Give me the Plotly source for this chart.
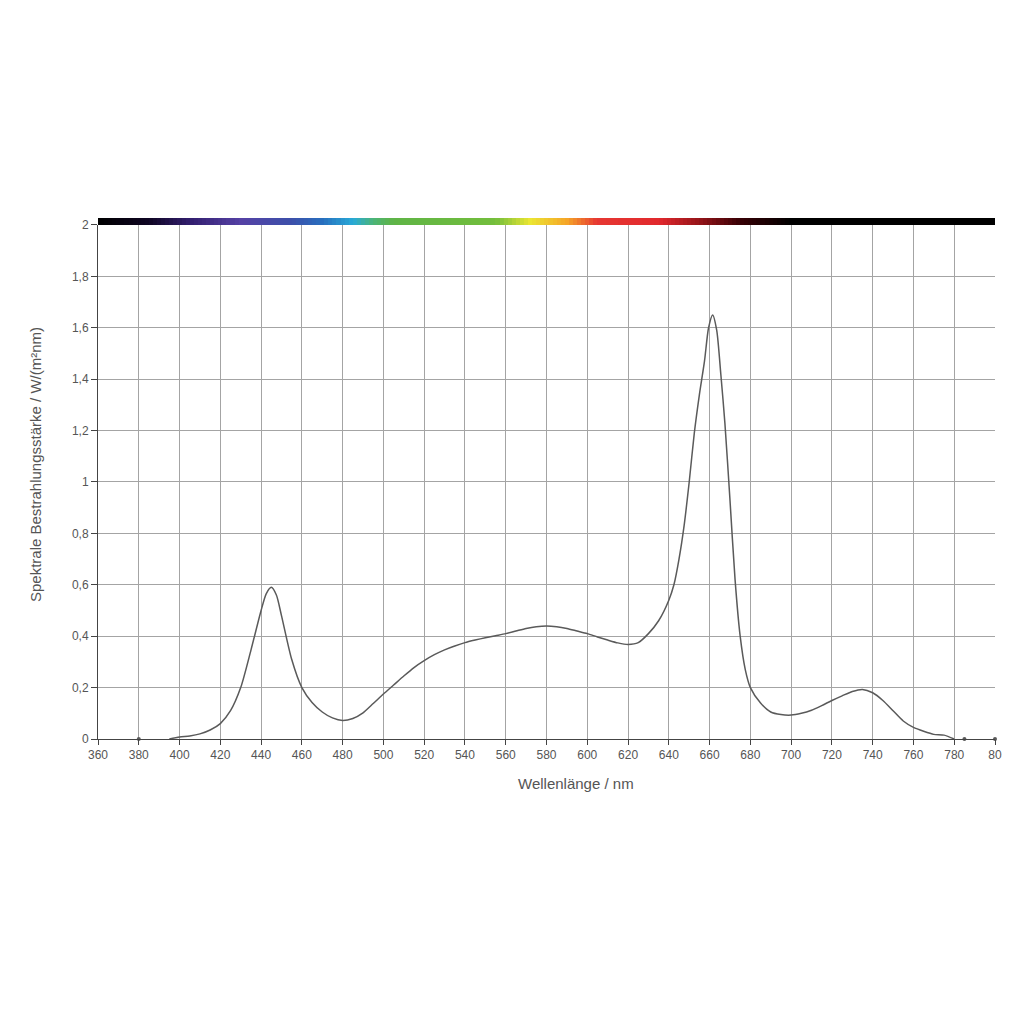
import plotly.graph_objects as go

# spectrum (nm, W/(m²nm))
wavelength = [395, 400, 405, 410, 415, 420, 425, 430, 435, 440, 442.5, 445, 447.5, 450,
              455, 460, 465, 470, 475, 480, 485, 490, 495, 500, 505, 510, 515, 520, 525,
              530, 535, 540, 545, 550, 555, 560, 565, 570, 575, 580, 585, 590, 595, 600,
              605, 610, 615, 620, 625, 630, 635, 640, 642.5, 645, 647.5, 650, 652.5, 655,
              657.5, 659.5, 661.5, 663.5, 665.5, 667.5, 670, 672.5, 675, 677.5, 680, 685,
              690, 695, 700, 705, 710, 715, 720, 725, 730, 735, 740, 745, 750, 755, 760,
              765, 770, 775, 780]
irradiance = [0.0, 0.008, 0.012, 0.02, 0.035, 0.06, 0.11, 0.2, 0.345, 0.5, 0.565, 0.59,
              0.56, 0.48, 0.31, 0.2, 0.142, 0.105, 0.082, 0.072, 0.08, 0.102, 0.138,
              0.175, 0.21, 0.245, 0.278, 0.305, 0.328, 0.347, 0.362, 0.375, 0.385,
              0.394, 0.402, 0.41, 0.42, 0.43, 0.437, 0.44, 0.437, 0.43, 0.42, 0.41,
              0.397, 0.385, 0.374, 0.368, 0.375, 0.41, 0.46, 0.54, 0.6, 0.7, 0.83, 1.0,
              1.19, 1.34, 1.47, 1.6, 1.65, 1.59, 1.42, 1.23, 0.93, 0.62, 0.4, 0.27, 0.2,
              0.14, 0.105, 0.095, 0.093, 0.1, 0.112, 0.13, 0.15, 0.168, 0.185, 0.193,
              0.18, 0.15, 0.11, 0.07, 0.045, 0.03, 0.018, 0.015, 0.0]

# small stray points at the baseline
dot_x = [380, 785, 800]
dot_y = [0, 0, 0]

x_ticks = list(range(360, 801, 20))
x_labels = [str(v) for v in x_ticks[:-1]] + ['80']
y_ticks = [0, 0.2, 0.4, 0.6, 0.8, 1, 1.2, 1.4, 1.6, 1.8, 2]
y_labels = ['0', '0,2', '0,4', '0,6', '0,8', '1', '1,2', '1,4', '1,6', '1,8', '2']

# colour band across the top
band_x = list(range(360, 801, 2))

band_scale = [
    [(360 - 360) / 440, 'rgb(0,0,0)'],
    [(385 - 360) / 440, 'rgb(15,5,35)'],
    [(405 - 360) / 440, 'rgb(50,30,110)'],
    [(430 - 360) / 440, 'rgb(85,65,165)'],
    [(455 - 360) / 440, 'rgb(60,80,170)'],
    [(470 - 360) / 440, 'rgb(40,110,190)'],
    [(485 - 360) / 440, 'rgb(40,170,215)'],
    [(495 - 360) / 440, 'rgb(75,180,120)'],
    [(505 - 360) / 440, 'rgb(95,180,70)'],
    [(555 - 360) / 440, 'rgb(115,190,60)'],
    [(572 - 360) / 440, 'rgb(235,230,50)'],
    [(590 - 360) / 440, 'rgb(245,165,40)'],
    [(605 - 360) / 440, 'rgb(230,55,50)'],
    [(635 - 360) / 440, 'rgb(225,40,45)'],
    [(655 - 360) / 440, 'rgb(150,20,25)'],
    [(675 - 360) / 440, 'rgb(55,0,5)'],
    [(700 - 360) / 440, 'rgb(0,0,0)'],
    [1.0, 'rgb(0,0,0)'],
]

fig = go.Figure()

fig.add_trace(go.Heatmap(x=band_x, y=[0], z=[band_x], colorscale=band_scale,
                         zmin=360, zmax=800, showscale=False, hoverinfo='skip',
                         xaxis='x', yaxis='y2'))

fig.add_trace(go.Scatter(x=wavelength, y=irradiance, mode='lines',
                         line=dict(color='#5a5a5a', width=1.5, shape='spline', smoothing=0.7),
                         showlegend=False))

fig.add_trace(go.Scatter(x=dot_x, y=dot_y, mode='markers',
                         marker=dict(color='#5a5a5a', size=4),
                         showlegend=False, cliponaxis=False))

tick_font = dict(family='Liberation Sans, Arial', size=12, color='#555555')
title_font = dict(family='Liberation Sans, Arial', size=15, color='#555555')

# the page body adds 8px on the left and top, so margins are shifted by that
fig.update_layout(
    width=1024, height=1024,
    paper_bgcolor='white', plot_bgcolor='white',
    margin=dict(l=90, r=37, t=210, b=293),
    xaxis=dict(range=[360, 800], tickvals=x_ticks, ticktext=x_labels,
               showgrid=True, gridcolor='#a4a4a4', gridwidth=1,
               showline=True, linecolor='#444444', linewidth=1,
               ticks='outside', ticklen=5, tickcolor='#444444',
               tickfont=tick_font, zeroline=False),
    yaxis=dict(domain=[0, 0.9866], range=[0, 2], tickvals=y_ticks, ticktext=y_labels,
               showgrid=True, gridcolor='#a4a4a4', gridwidth=1,
               showline=True, linecolor='#444444', linewidth=1,
               ticks='outside', ticklen=6, tickcolor='#444444',
               tickfont=tick_font, zeroline=False),
    yaxis2=dict(domain=[0.9866, 1], visible=False, fixedrange=True),
    annotations=[
        dict(text='Wellenlänge / nm', xref='paper', yref='paper', x=0.533, y=-0.0845,
             showarrow=False, font=title_font, xanchor='center', yanchor='middle'),
        dict(text='Spektrale Bestrahlungsstärke / W/(m²nm)', xref='paper', yref='paper',
             x=-0.069, y=0.526, textangle=-90, showarrow=False, font=title_font,
             xanchor='center', yanchor='middle'),
    ],
)

fig.write_html("out.html")
